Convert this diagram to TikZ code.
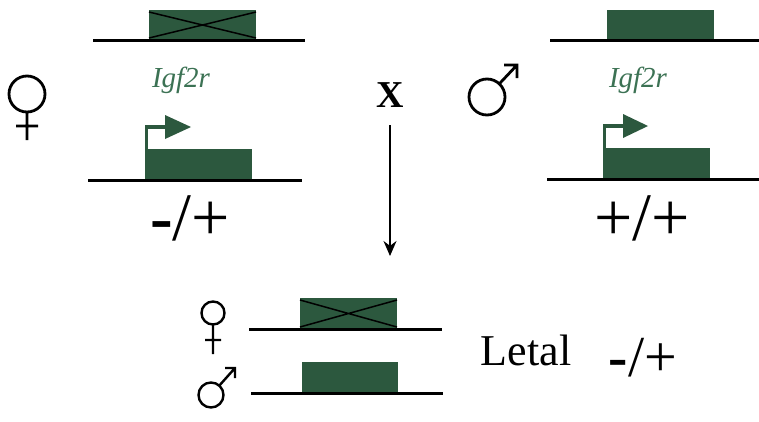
\documentclass[tikz,border=0pt]{standalone}
\usepackage{fontspec}
\setmainfont{Liberation Serif}
\usepackage{xcolor}
\usetikzlibrary{arrows.meta, positioning}
\definecolor{genegreen}{RGB}{44,88,62}
\definecolor{labelgreen}{RGB}{60,114,84}

\begin{document}
\begin{tikzpicture}[x=1pt, y=-1pt, >=Stealth,
  chrom/.style={line width=3pt},
  gene/.style={fill=genegreen},
  knockout/.style={line width=1.5pt},
  promoter/.style={genegreen, line width=3.5pt},
  tss/.style={fill=genegreen},
  sexbig/.style={line width=2.8pt},
  sexsmall/.style={line width=2.4pt},
  lbl/.style={inner sep=0pt, anchor=base, font=\fontsize{29}{29}\selectfont\itshape, text=labelgreen},
  geno/.style={inner sep=0pt, anchor=base, font=\fontsize{68}{68}\selectfont},
  cross/.style={->, line width=1.5pt, >={Stealth[length=15pt, width=13pt]}}
]
  \useasboundingbox (0,0) rectangle (759,421);

  % female parent
  \draw[sexbig] (27,94) circle[radius=18pt] (27,112) -- (27,140) (16,126) -- (38,126);
  \fill[gene] (149,10) rectangle (256,40);
  \draw[knockout] (149,12) -- (256,38) (149,38) -- (256,12);
  \draw[chrom] (93,40) -- (305,40);
  \node[lbl] (femgene) at (181,87) {Igf2r};
  \fill[gene] (145,149) rectangle (252,180);
  \draw[promoter] (146.5,149) -- (146.5,127) -- (166,127);
  \fill[tss] (165,115) -- (191,127) -- (165,139) -- cycle;
  \draw[chrom] (88,180) -- (302,180);
  \node[geno] (femgeno) at (190,240) {\textbf{-}/+};

  % male parent
  \draw[sexbig] (487,97) circle[radius=18pt] (499.6,83.5) -- (517,65)
    (504,65) -- (517,65) -- (517,78);
  \fill[gene] (607,10) rectangle (714,40);
  \draw[chrom] (550,40) -- (759,40);
  \node[lbl] (malgene) at (638,87) {Igf2r};
  \fill[gene] (603,148) rectangle (710,179);
  \draw[promoter] (604.5,148) -- (604.5,126) -- (624,126);
  \fill[tss] (623,114) -- (648,126) -- (623,138) -- cycle;
  \draw[chrom] (547,179) -- (759,179);
  \node[geno] (malgeno) at (642,240) {+/+};

  % cross
  \node[inner sep=0pt, anchor=base, font=\fontsize{38}{38}\selectfont\bfseries] (X) at (390,107) {X};
  \coordinate (offspring) at (390,256);
  \draw[cross] ([yshift=-18pt]X.south) -- (offspring);

  % offspring
  \draw[sexsmall] (213,313) circle[radius=11.5pt] (213,324.5) -- (213,354) (205,340) -- (221,340);
  \fill[gene] (300,298) rectangle (397,329);
  \draw[knockout] (300,300) -- (397,327) (300,327) -- (397,300);
  \draw[chrom] (249,329) -- (442,329);
  \draw[sexsmall] (211,395) circle[radius=12.5pt] (219.3,385.6) -- (235,368)
    (225,368) -- (235,368) -- (235,378);
  \fill[gene] (302,362) rectangle (398,393);
  \draw[chrom] (251,393) -- (443,393);
  \node[inner sep=0pt, anchor=base, font=\fontsize{44}{44}\selectfont] (letal) at (526,365) {Letal};
  \node[geno, font=\fontsize{58}{58}\selectfont] (offgeno) at (643,376) {\textbf{-}/+};
\end{tikzpicture}
\end{document}
